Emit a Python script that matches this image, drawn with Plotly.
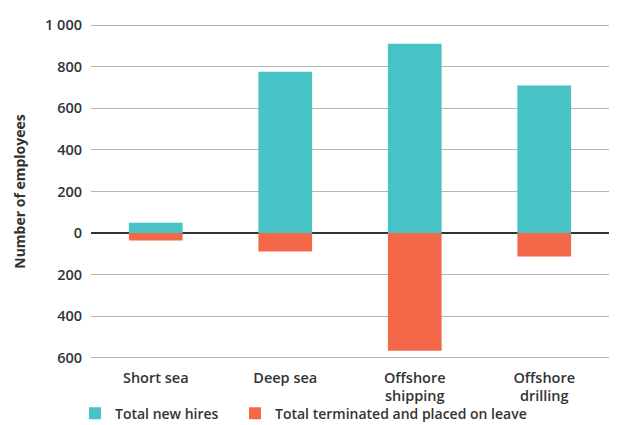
import plotly.graph_objects as go

categories = ["Short sea", "Deep sea", "Offshore<br>shipping", "Offshore<br>drilling"]
new_hires = [50, 775, 910, 710]
terminated = [-35, -88, -565, -112]
tick_vals = [-600, -400, -200, 0, 200, 400, 600, 800, 1000]
tick_text = ["600", "400", "200", "0", "200", "400", "600", "800", "1 000"]

TEAL = "#47C3C6"
ORANGE = "#F26849"
FONT = "Open Sans"

fig = go.Figure()
fig.add_trace(go.Bar(x=categories, y=new_hires, name="Total new hires", marker_color=TEAL,
                     marker_line_width=0, legend="legend"))
fig.add_trace(go.Bar(x=categories, y=terminated, name="Total terminated and placed on leave",
                     marker_color=ORANGE, marker_line_width=0, legend="legend2"))

leg_common = dict(orientation="h", xanchor="left", y=0.027, yanchor="middle", yref="container",
                  xref="container", font=dict(size=14, color="#333333", weight=600), itemwidth=30,
                  bgcolor="rgba(0,0,0,0)")

fig.update_layout(
    width=619, height=425,
    barmode="relative",
    bargap=0.585,
    plot_bgcolor="white", paper_bgcolor="white",
    margin=dict(l=91, r=10, t=24, b=66, autoexpand=False),
    font=dict(family=FONT, color="#333333", size=13),
    showlegend=True,
    legend=dict(x=75 / 619, **leg_common),
    legend2=dict(x=235 / 619, **leg_common),
    yaxis=dict(range=[-605, 1005], tickvals=tick_vals, ticktext=tick_text,
               showgrid=True, gridcolor="#b5b5b5", gridwidth=1,
               zeroline=True, zerolinecolor="#333333", zerolinewidth=1.5,
               ticks="", ticklabelstandoff=8,
               tickfont=dict(size=14.5, color="#333333", weight=600),
               title=dict(text="<b>Number of employees</b>", font=dict(size=14, color="#333333"), standoff=16)),
    xaxis=dict(showgrid=False, showline=False, ticks="", ticklabelstandoff=8,
               tickfont=dict(size=14.5, color="#333333", weight=600)),
)

fig.write_html("out.html")
